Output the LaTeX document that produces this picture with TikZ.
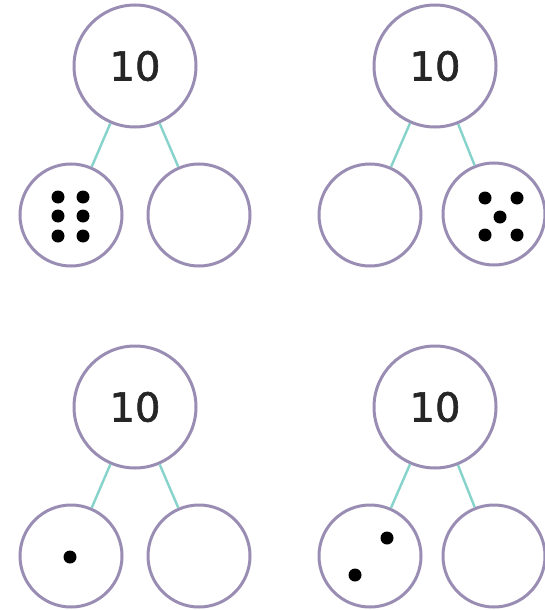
\documentclass[tikz,border=0pt]{standalone}
\usepackage{fontspec}
\newfontfamily\numfont[FakeBold=1.6]{DejaVu Sans}
\definecolor{ring}{HTML}{9A8DB4}
\definecolor{link}{HTML}{86D3CB}
\definecolor{numtext}{HTML}{262626}
\tikzset{
  whole/.style={circle, draw=ring, line width=3pt, minimum size=122pt, inner sep=0pt,
    font=\numfont\fontsize{40}{40}\selectfont, text=numtext},
  part/.style={circle, draw=ring, line width=3pt, minimum size=102pt, inner sep=0pt},
  bond/.style={draw=link, line width=2.4pt},
  dot/.style={circle, fill=black, minimum size=13pt, inner sep=0pt}
}
\begin{document}
\begin{tikzpicture}[x=1pt,y=-1pt]
\useasboundingbox (0,0) rectangle (544,610);
% group A (top left)
\node[whole] (a) at (135,66) {10};
\node[part] (al) at (71,215) {};
\node[part] (ar) at (199,215) {};
\draw[bond] (a) -- (al);
\draw[bond] (a) -- (ar);
\foreach \i/\px/\py in {1/58/197,2/83/197,3/58/216,4/83/216,5/58/236,6/83/236}
  \node[dot] (ad\i) at (\px,\py) {};
% group B (top right)
\node[whole] (b) at (435,66) {10};
\node[part] (bl) at (370,215) {};
\node[part] (br) at (494,214) {};
\draw[bond] (b) -- (bl);
\draw[bond] (b) -- (br);
\foreach \i/\px/\py in {1/485/198,2/517/198,3/500/217,4/485/235,5/517/235}
  \node[dot] (bd\i) at (\px,\py) {};
% group C (bottom left)
\node[whole] (c) at (135,407) {10};
\node[part] (cl) at (71,556) {};
\node[part] (cr) at (199,556) {};
\draw[bond] (c) -- (cl);
\draw[bond] (c) -- (cr);
\node[dot] (cd1) at (70,557) {};
% group D (bottom right)
\node[whole] (d) at (435,407) {10};
\node[part] (dl) at (370,556) {};
\node[part] (dr) at (494,556) {};
\draw[bond] (d) -- (dl);
\draw[bond] (d) -- (dr);
\node[dot] (dd1) at (387,538) {};
\node[dot] (dd2) at (355,575) {};
\end{tikzpicture}
\end{document}
